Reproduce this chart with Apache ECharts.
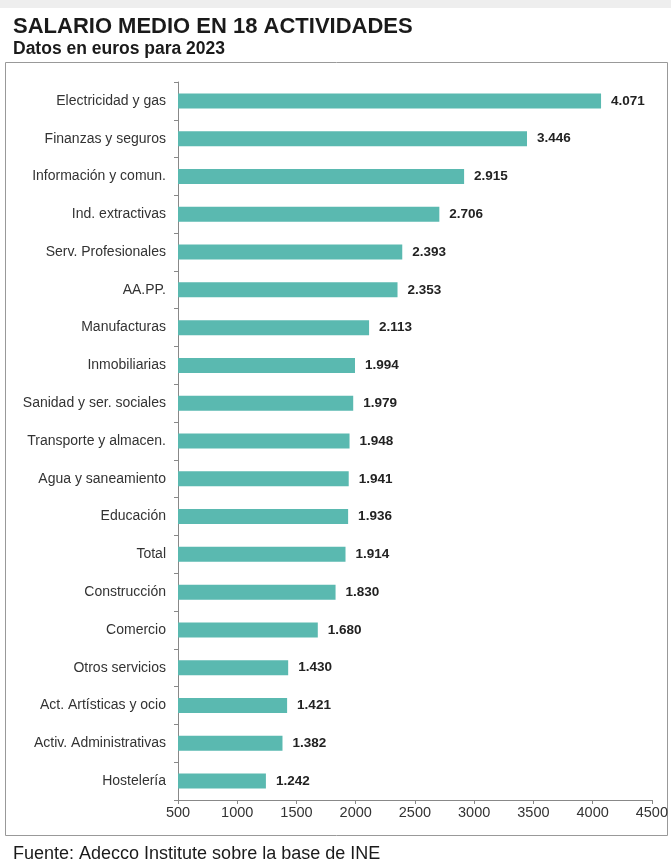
<!DOCTYPE html>
<html>
<head>
<meta charset="utf-8">
<script src="https://cdn.jsdelivr.net/npm/echarts@6/dist/echarts.min.js"></script>
<style>
  html, body { margin: 0; padding: 0; background: #fff; }
  #main { width: 671px; height: 863px; }
</style>
</head>
<body>
<div id="main"></div>
<script>
// actividades, de abajo hacia arriba (eje de categorias horizontal)
var actividades = ['Hostelería', 'Activ. Administrativas', 'Act. Artísticas y ocio', 'Otros servicios',
    'Comercio', 'Construcción', 'Total', 'Educación', 'Agua y saneamiento', 'Transporte y almacen.',
    'Sanidad y ser. sociales', 'Inmobiliarias', 'Manufacturas', 'AA.PP.', 'Serv. Profesionales',
    'Ind. extractivas', 'Información y comun.', 'Finanzas y seguros', 'Electricidad y gas'];
var salarios = [1242, 1382, 1421, 1430, 1680, 1830, 1914, 1936, 1941, 1948,
    1979, 1994, 2113, 2353, 2393, 2706, 2915, 3446, 4071];
var ticksX = [500, 1000, 1500, 2000, 2500, 3000, 3500, 4000, 4500];

var myChart = echarts.init(document.getElementById('main'));

function fmtEs(v) {
    // 4071 -> 4.071
    var s = String(v);
    return s.length > 3 ? s.slice(0, s.length - 3) + '.' + s.slice(-3) : s;
}

var option = {
    backgroundColor: '#fff',
    animation: false,
    textStyle: { fontFamily: 'Liberation Sans, Arial, sans-serif' },
    title: [{
        text: 'SALARIO MEDIO EN 18 ACTIVIDADES',
        left: 8, top: 11,
        textStyle: { fontSize: 22, fontWeight: 'bold', color: '#1a1a1a' }
    }, {
        text: 'Datos en euros para 2023',
        left: 8, top: 35,
        textStyle: { fontSize: 17.5, fontWeight: 'bold', color: '#1a1a1a' }
    }, {
        text: 'Fuente: Adecco Institute sobre la base de INE',
        left: 8, top: 840,
        textStyle: { fontSize: 18, fontWeight: 'normal', color: '#1a1a1a' }
    }],
    graphic: [{
        type: 'rect', silent: true, z: -10,
        shape: { x: 0, y: 0, width: 671, height: 8 },
        style: { fill: '#eeeeee' }
    }, {
        type: 'rect', silent: true, z: -5,
        shape: { x: 5.5, y: 62.5, width: 662, height: 773 },
        style: { fill: '#fff', stroke: '#999', lineWidth: 1 }
    }],
    grid: { left: 178, right: 18, top: 82, bottom: 63 },
    xAxis: {
        type: 'value',
        min: 500, max: 4500, interval: 500,
        axisLine: { show: true, lineStyle: { color: '#888' } },
        axisTick: { show: true, length: 4, lineStyle: { color: '#888' } },
        splitLine: { show: false },
        axisLabel: {
            color: '#333', fontSize: 14.5, margin: 5,
            formatter: function (v) { return ticksX.indexOf(v) >= 0 ? String(v) : ''; }
        }
    },
    yAxis: {
        type: 'category',
        data: actividades,
        axisLine: { show: true, lineStyle: { color: '#888' } },
        axisTick: { show: true, length: 4, lineStyle: { color: '#888' } },
        axisLabel: { color: '#333', fontSize: 14, margin: 12 }
    },
    series: [{
        type: 'bar',
        data: salarios,
        barWidth: 15,
        itemStyle: { color: '#5ab9b0' },
        label: {
            show: true, position: 'right', distance: 10,
            color: '#222', fontSize: 13.5, fontWeight: 'bold',
            formatter: function (p) { return fmtEs(p.value); }
        }
    }]
};
myChart.setOption(option);
</script>
</body>
</html>
